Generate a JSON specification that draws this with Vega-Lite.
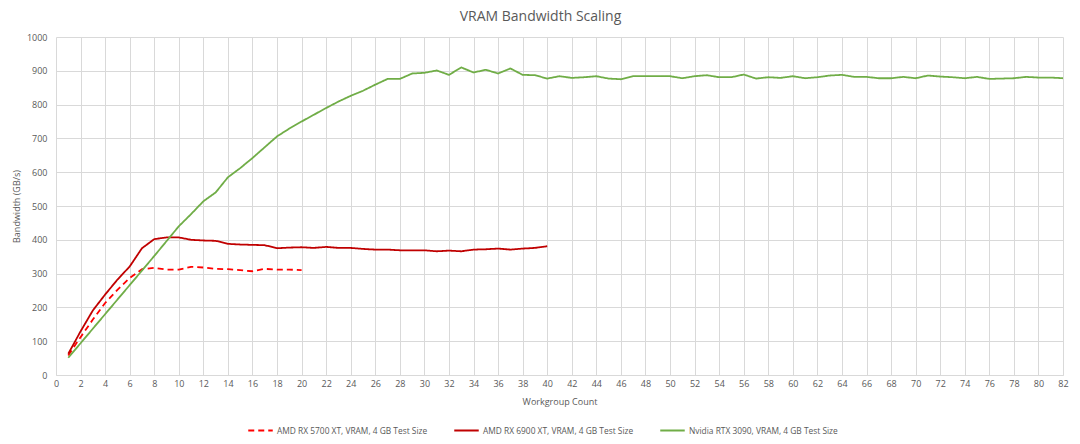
{
  "$schema": "https://vega.github.io/schema/vega-lite/v6.json",
  "width": 1007,
  "height": 338,
  "autosize": "none",
  "padding": {"left": 56, "top": 37, "right": 17, "bottom": 69},
  "background": "white",
  "title": {
    "text": "VRAM Bandwidth Scaling",
    "fontSize": 14,
    "fontWeight": "normal",
    "font": "Open Sans",
    "color": "#595959",
    "anchor": "middle",
    "offset": 9,
    "dx": -19
  },
  "data": {
    "values": [
      {"series": "AMD RX 5700 XT, VRAM, 4 GB Test Size", "workgroups": 1, "bandwidth": 58},
      {"series": "AMD RX 5700 XT, VRAM, 4 GB Test Size", "workgroups": 2, "bandwidth": 112},
      {"series": "AMD RX 5700 XT, VRAM, 4 GB Test Size", "workgroups": 3, "bandwidth": 164},
      {"series": "AMD RX 5700 XT, VRAM, 4 GB Test Size", "workgroups": 4, "bandwidth": 213},
      {"series": "AMD RX 5700 XT, VRAM, 4 GB Test Size", "workgroups": 5, "bandwidth": 252},
      {"series": "AMD RX 5700 XT, VRAM, 4 GB Test Size", "workgroups": 6, "bandwidth": 287},
      {"series": "AMD RX 5700 XT, VRAM, 4 GB Test Size", "workgroups": 7, "bandwidth": 313},
      {"series": "AMD RX 5700 XT, VRAM, 4 GB Test Size", "workgroups": 8, "bandwidth": 317},
      {"series": "AMD RX 5700 XT, VRAM, 4 GB Test Size", "workgroups": 9, "bandwidth": 312},
      {"series": "AMD RX 5700 XT, VRAM, 4 GB Test Size", "workgroups": 10, "bandwidth": 312},
      {"series": "AMD RX 5700 XT, VRAM, 4 GB Test Size", "workgroups": 11, "bandwidth": 320},
      {"series": "AMD RX 5700 XT, VRAM, 4 GB Test Size", "workgroups": 12, "bandwidth": 318},
      {"series": "AMD RX 5700 XT, VRAM, 4 GB Test Size", "workgroups": 13, "bandwidth": 314},
      {"series": "AMD RX 5700 XT, VRAM, 4 GB Test Size", "workgroups": 14, "bandwidth": 313},
      {"series": "AMD RX 5700 XT, VRAM, 4 GB Test Size", "workgroups": 15, "bandwidth": 310},
      {"series": "AMD RX 5700 XT, VRAM, 4 GB Test Size", "workgroups": 16, "bandwidth": 307},
      {"series": "AMD RX 5700 XT, VRAM, 4 GB Test Size", "workgroups": 17, "bandwidth": 314},
      {"series": "AMD RX 5700 XT, VRAM, 4 GB Test Size", "workgroups": 18, "bandwidth": 312},
      {"series": "AMD RX 5700 XT, VRAM, 4 GB Test Size", "workgroups": 19, "bandwidth": 312},
      {"series": "AMD RX 5700 XT, VRAM, 4 GB Test Size", "workgroups": 20, "bandwidth": 310},
      {"series": "AMD RX 6900 XT, VRAM, 4 GB Test Size", "workgroups": 1, "bandwidth": 63},
      {"series": "AMD RX 6900 XT, VRAM, 4 GB Test Size", "workgroups": 2, "bandwidth": 129},
      {"series": "AMD RX 6900 XT, VRAM, 4 GB Test Size", "workgroups": 3, "bandwidth": 191},
      {"series": "AMD RX 6900 XT, VRAM, 4 GB Test Size", "workgroups": 4, "bandwidth": 238},
      {"series": "AMD RX 6900 XT, VRAM, 4 GB Test Size", "workgroups": 5, "bandwidth": 282},
      {"series": "AMD RX 6900 XT, VRAM, 4 GB Test Size", "workgroups": 6, "bandwidth": 321},
      {"series": "AMD RX 6900 XT, VRAM, 4 GB Test Size", "workgroups": 7, "bandwidth": 375},
      {"series": "AMD RX 6900 XT, VRAM, 4 GB Test Size", "workgroups": 8, "bandwidth": 402},
      {"series": "AMD RX 6900 XT, VRAM, 4 GB Test Size", "workgroups": 9, "bandwidth": 407},
      {"series": "AMD RX 6900 XT, VRAM, 4 GB Test Size", "workgroups": 10, "bandwidth": 407},
      {"series": "AMD RX 6900 XT, VRAM, 4 GB Test Size", "workgroups": 11, "bandwidth": 400},
      {"series": "AMD RX 6900 XT, VRAM, 4 GB Test Size", "workgroups": 12, "bandwidth": 398},
      {"series": "AMD RX 6900 XT, VRAM, 4 GB Test Size", "workgroups": 13, "bandwidth": 397},
      {"series": "AMD RX 6900 XT, VRAM, 4 GB Test Size", "workgroups": 14, "bandwidth": 388},
      {"series": "AMD RX 6900 XT, VRAM, 4 GB Test Size", "workgroups": 15, "bandwidth": 386},
      {"series": "AMD RX 6900 XT, VRAM, 4 GB Test Size", "workgroups": 16, "bandwidth": 385},
      {"series": "AMD RX 6900 XT, VRAM, 4 GB Test Size", "workgroups": 17, "bandwidth": 384},
      {"series": "AMD RX 6900 XT, VRAM, 4 GB Test Size", "workgroups": 18, "bandwidth": 375},
      {"series": "AMD RX 6900 XT, VRAM, 4 GB Test Size", "workgroups": 19, "bandwidth": 377},
      {"series": "AMD RX 6900 XT, VRAM, 4 GB Test Size", "workgroups": 20, "bandwidth": 378},
      {"series": "AMD RX 6900 XT, VRAM, 4 GB Test Size", "workgroups": 21, "bandwidth": 376},
      {"series": "AMD RX 6900 XT, VRAM, 4 GB Test Size", "workgroups": 22, "bandwidth": 379},
      {"series": "AMD RX 6900 XT, VRAM, 4 GB Test Size", "workgroups": 23, "bandwidth": 376},
      {"series": "AMD RX 6900 XT, VRAM, 4 GB Test Size", "workgroups": 24, "bandwidth": 376},
      {"series": "AMD RX 6900 XT, VRAM, 4 GB Test Size", "workgroups": 25, "bandwidth": 373},
      {"series": "AMD RX 6900 XT, VRAM, 4 GB Test Size", "workgroups": 26, "bandwidth": 371},
      {"series": "AMD RX 6900 XT, VRAM, 4 GB Test Size", "workgroups": 27, "bandwidth": 371},
      {"series": "AMD RX 6900 XT, VRAM, 4 GB Test Size", "workgroups": 28, "bandwidth": 369},
      {"series": "AMD RX 6900 XT, VRAM, 4 GB Test Size", "workgroups": 29, "bandwidth": 369},
      {"series": "AMD RX 6900 XT, VRAM, 4 GB Test Size", "workgroups": 30, "bandwidth": 369},
      {"series": "AMD RX 6900 XT, VRAM, 4 GB Test Size", "workgroups": 31, "bandwidth": 366},
      {"series": "AMD RX 6900 XT, VRAM, 4 GB Test Size", "workgroups": 32, "bandwidth": 368},
      {"series": "AMD RX 6900 XT, VRAM, 4 GB Test Size", "workgroups": 33, "bandwidth": 366},
      {"series": "AMD RX 6900 XT, VRAM, 4 GB Test Size", "workgroups": 34, "bandwidth": 371},
      {"series": "AMD RX 6900 XT, VRAM, 4 GB Test Size", "workgroups": 35, "bandwidth": 372},
      {"series": "AMD RX 6900 XT, VRAM, 4 GB Test Size", "workgroups": 36, "bandwidth": 374},
      {"series": "AMD RX 6900 XT, VRAM, 4 GB Test Size", "workgroups": 37, "bandwidth": 371},
      {"series": "AMD RX 6900 XT, VRAM, 4 GB Test Size", "workgroups": 38, "bandwidth": 374},
      {"series": "AMD RX 6900 XT, VRAM, 4 GB Test Size", "workgroups": 39, "bandwidth": 376},
      {"series": "AMD RX 6900 XT, VRAM, 4 GB Test Size", "workgroups": 40, "bandwidth": 381},
      {"series": "Nvidia RTX 3090, VRAM, 4 GB Test Size", "workgroups": 1, "bandwidth": 51},
      {"series": "Nvidia RTX 3090, VRAM, 4 GB Test Size", "workgroups": 2, "bandwidth": 94},
      {"series": "Nvidia RTX 3090, VRAM, 4 GB Test Size", "workgroups": 3, "bandwidth": 137},
      {"series": "Nvidia RTX 3090, VRAM, 4 GB Test Size", "workgroups": 4, "bandwidth": 180},
      {"series": "Nvidia RTX 3090, VRAM, 4 GB Test Size", "workgroups": 5, "bandwidth": 223},
      {"series": "Nvidia RTX 3090, VRAM, 4 GB Test Size", "workgroups": 6, "bandwidth": 266},
      {"series": "Nvidia RTX 3090, VRAM, 4 GB Test Size", "workgroups": 7, "bandwidth": 309},
      {"series": "Nvidia RTX 3090, VRAM, 4 GB Test Size", "workgroups": 8, "bandwidth": 352},
      {"series": "Nvidia RTX 3090, VRAM, 4 GB Test Size", "workgroups": 9, "bandwidth": 396},
      {"series": "Nvidia RTX 3090, VRAM, 4 GB Test Size", "workgroups": 10, "bandwidth": 440},
      {"series": "Nvidia RTX 3090, VRAM, 4 GB Test Size", "workgroups": 11, "bandwidth": 476},
      {"series": "Nvidia RTX 3090, VRAM, 4 GB Test Size", "workgroups": 12, "bandwidth": 514},
      {"series": "Nvidia RTX 3090, VRAM, 4 GB Test Size", "workgroups": 13, "bandwidth": 540},
      {"series": "Nvidia RTX 3090, VRAM, 4 GB Test Size", "workgroups": 14, "bandwidth": 585},
      {"series": "Nvidia RTX 3090, VRAM, 4 GB Test Size", "workgroups": 15, "bandwidth": 612},
      {"series": "Nvidia RTX 3090, VRAM, 4 GB Test Size", "workgroups": 16, "bandwidth": 642},
      {"series": "Nvidia RTX 3090, VRAM, 4 GB Test Size", "workgroups": 17, "bandwidth": 674},
      {"series": "Nvidia RTX 3090, VRAM, 4 GB Test Size", "workgroups": 18, "bandwidth": 706},
      {"series": "Nvidia RTX 3090, VRAM, 4 GB Test Size", "workgroups": 19, "bandwidth": 729},
      {"series": "Nvidia RTX 3090, VRAM, 4 GB Test Size", "workgroups": 20, "bandwidth": 750},
      {"series": "Nvidia RTX 3090, VRAM, 4 GB Test Size", "workgroups": 21, "bandwidth": 770},
      {"series": "Nvidia RTX 3090, VRAM, 4 GB Test Size", "workgroups": 22, "bandwidth": 790},
      {"series": "Nvidia RTX 3090, VRAM, 4 GB Test Size", "workgroups": 23, "bandwidth": 809},
      {"series": "Nvidia RTX 3090, VRAM, 4 GB Test Size", "workgroups": 24, "bandwidth": 826},
      {"series": "Nvidia RTX 3090, VRAM, 4 GB Test Size", "workgroups": 25, "bandwidth": 841},
      {"series": "Nvidia RTX 3090, VRAM, 4 GB Test Size", "workgroups": 26, "bandwidth": 859},
      {"series": "Nvidia RTX 3090, VRAM, 4 GB Test Size", "workgroups": 27, "bandwidth": 876},
      {"series": "Nvidia RTX 3090, VRAM, 4 GB Test Size", "workgroups": 28, "bandwidth": 876},
      {"series": "Nvidia RTX 3090, VRAM, 4 GB Test Size", "workgroups": 29, "bandwidth": 892},
      {"series": "Nvidia RTX 3090, VRAM, 4 GB Test Size", "workgroups": 30, "bandwidth": 894},
      {"series": "Nvidia RTX 3090, VRAM, 4 GB Test Size", "workgroups": 31, "bandwidth": 901},
      {"series": "Nvidia RTX 3090, VRAM, 4 GB Test Size", "workgroups": 32, "bandwidth": 888},
      {"series": "Nvidia RTX 3090, VRAM, 4 GB Test Size", "workgroups": 33, "bandwidth": 910},
      {"series": "Nvidia RTX 3090, VRAM, 4 GB Test Size", "workgroups": 34, "bandwidth": 895},
      {"series": "Nvidia RTX 3090, VRAM, 4 GB Test Size", "workgroups": 35, "bandwidth": 903},
      {"series": "Nvidia RTX 3090, VRAM, 4 GB Test Size", "workgroups": 36, "bandwidth": 892},
      {"series": "Nvidia RTX 3090, VRAM, 4 GB Test Size", "workgroups": 37, "bandwidth": 907},
      {"series": "Nvidia RTX 3090, VRAM, 4 GB Test Size", "workgroups": 38, "bandwidth": 888},
      {"series": "Nvidia RTX 3090, VRAM, 4 GB Test Size", "workgroups": 39, "bandwidth": 887},
      {"series": "Nvidia RTX 3090, VRAM, 4 GB Test Size", "workgroups": 40, "bandwidth": 877},
      {"series": "Nvidia RTX 3090, VRAM, 4 GB Test Size", "workgroups": 41, "bandwidth": 884},
      {"series": "Nvidia RTX 3090, VRAM, 4 GB Test Size", "workgroups": 42, "bandwidth": 879},
      {"series": "Nvidia RTX 3090, VRAM, 4 GB Test Size", "workgroups": 43, "bandwidth": 881},
      {"series": "Nvidia RTX 3090, VRAM, 4 GB Test Size", "workgroups": 44, "bandwidth": 884},
      {"series": "Nvidia RTX 3090, VRAM, 4 GB Test Size", "workgroups": 45, "bandwidth": 877},
      {"series": "Nvidia RTX 3090, VRAM, 4 GB Test Size", "workgroups": 46, "bandwidth": 875},
      {"series": "Nvidia RTX 3090, VRAM, 4 GB Test Size", "workgroups": 47, "bandwidth": 884},
      {"series": "Nvidia RTX 3090, VRAM, 4 GB Test Size", "workgroups": 48, "bandwidth": 884},
      {"series": "Nvidia RTX 3090, VRAM, 4 GB Test Size", "workgroups": 49, "bandwidth": 884},
      {"series": "Nvidia RTX 3090, VRAM, 4 GB Test Size", "workgroups": 50, "bandwidth": 884},
      {"series": "Nvidia RTX 3090, VRAM, 4 GB Test Size", "workgroups": 51, "bandwidth": 878},
      {"series": "Nvidia RTX 3090, VRAM, 4 GB Test Size", "workgroups": 52, "bandwidth": 884},
      {"series": "Nvidia RTX 3090, VRAM, 4 GB Test Size", "workgroups": 53, "bandwidth": 887},
      {"series": "Nvidia RTX 3090, VRAM, 4 GB Test Size", "workgroups": 54, "bandwidth": 881},
      {"series": "Nvidia RTX 3090, VRAM, 4 GB Test Size", "workgroups": 55, "bandwidth": 881},
      {"series": "Nvidia RTX 3090, VRAM, 4 GB Test Size", "workgroups": 56, "bandwidth": 889},
      {"series": "Nvidia RTX 3090, VRAM, 4 GB Test Size", "workgroups": 57, "bandwidth": 877},
      {"series": "Nvidia RTX 3090, VRAM, 4 GB Test Size", "workgroups": 58, "bandwidth": 881},
      {"series": "Nvidia RTX 3090, VRAM, 4 GB Test Size", "workgroups": 59, "bandwidth": 879},
      {"series": "Nvidia RTX 3090, VRAM, 4 GB Test Size", "workgroups": 60, "bandwidth": 884},
      {"series": "Nvidia RTX 3090, VRAM, 4 GB Test Size", "workgroups": 61, "bandwidth": 878},
      {"series": "Nvidia RTX 3090, VRAM, 4 GB Test Size", "workgroups": 62, "bandwidth": 881},
      {"series": "Nvidia RTX 3090, VRAM, 4 GB Test Size", "workgroups": 63, "bandwidth": 886},
      {"series": "Nvidia RTX 3090, VRAM, 4 GB Test Size", "workgroups": 64, "bandwidth": 888},
      {"series": "Nvidia RTX 3090, VRAM, 4 GB Test Size", "workgroups": 65, "bandwidth": 882},
      {"series": "Nvidia RTX 3090, VRAM, 4 GB Test Size", "workgroups": 66, "bandwidth": 882},
      {"series": "Nvidia RTX 3090, VRAM, 4 GB Test Size", "workgroups": 67, "bandwidth": 878},
      {"series": "Nvidia RTX 3090, VRAM, 4 GB Test Size", "workgroups": 68, "bandwidth": 878},
      {"series": "Nvidia RTX 3090, VRAM, 4 GB Test Size", "workgroups": 69, "bandwidth": 882},
      {"series": "Nvidia RTX 3090, VRAM, 4 GB Test Size", "workgroups": 70, "bandwidth": 878},
      {"series": "Nvidia RTX 3090, VRAM, 4 GB Test Size", "workgroups": 71, "bandwidth": 886},
      {"series": "Nvidia RTX 3090, VRAM, 4 GB Test Size", "workgroups": 72, "bandwidth": 883},
      {"series": "Nvidia RTX 3090, VRAM, 4 GB Test Size", "workgroups": 73, "bandwidth": 881},
      {"series": "Nvidia RTX 3090, VRAM, 4 GB Test Size", "workgroups": 74, "bandwidth": 878},
      {"series": "Nvidia RTX 3090, VRAM, 4 GB Test Size", "workgroups": 75, "bandwidth": 882},
      {"series": "Nvidia RTX 3090, VRAM, 4 GB Test Size", "workgroups": 76, "bandwidth": 876},
      {"series": "Nvidia RTX 3090, VRAM, 4 GB Test Size", "workgroups": 77, "bandwidth": 877},
      {"series": "Nvidia RTX 3090, VRAM, 4 GB Test Size", "workgroups": 78, "bandwidth": 878},
      {"series": "Nvidia RTX 3090, VRAM, 4 GB Test Size", "workgroups": 79, "bandwidth": 882},
      {"series": "Nvidia RTX 3090, VRAM, 4 GB Test Size", "workgroups": 80, "bandwidth": 880},
      {"series": "Nvidia RTX 3090, VRAM, 4 GB Test Size", "workgroups": 81, "bandwidth": 880},
      {"series": "Nvidia RTX 3090, VRAM, 4 GB Test Size", "workgroups": 82, "bandwidth": 878}
    ]
  },
  "mark": {"type": "line", "strokeWidth": 1.8, "strokeJoin": "round"},
  "encoding": {
    "x": {
      "field": "workgroups",
      "type": "quantitative",
      "title": "Workgroup Count",
      "scale": {"domain": [0, 82], "nice": false, "zero": false},
      "axis": {
        "values": [0, 2, 4, 6, 8, 10, 12, 14, 16, 18, 20, 22, 24, 26, 28, 30, 32, 34, 36, 38, 40, 42, 44, 46, 48, 50, 52, 54, 56, 58, 60, 62, 64, 66, 68, 70, 72, 74, 76, 78, 80, 82],
        "ticks": false,
        "domain": true,
        "domainColor": "#D9D9D9",
        "labelPadding": 4,
        "titlePadding": 9,
        "labelFlush": false
      }
    },
    "y": {
      "field": "bandwidth",
      "type": "quantitative",
      "title": "Bandwidth (GB/s)",
      "scale": {"domain": [0, 1000], "nice": false},
      "axis": {
        "values": [0, 100, 200, 300, 400, 500, 600, 700, 800, 900, 1000],
        "format": "d",
        "ticks": false,
        "domain": false,
        "labelPadding": 9,
        "titlePadding": 5
      }
    },
    "color": {
      "field": "series",
      "type": "nominal",
      "title": null,
      "scale": {
        "domain": ["AMD RX 5700 XT, VRAM, 4 GB Test Size", "AMD RX 6900 XT, VRAM, 4 GB Test Size", "Nvidia RTX 3090, VRAM, 4 GB Test Size"],
        "range": ["#FF0000", "#C00000", "#70AD47"]
      },
      "legend": {
        "orient": "none",
        "direction": "horizontal",
        "legendX": 191,
        "legendY": 380,
        "symbolType": "stroke",
        "symbolSize": 600,
        "symbolStrokeWidth": 2,
        "columnPadding": 22,
        "labelOffset": 3,
        "labelLimit": 0
      }
    },
    "strokeDash": {
      "field": "series",
      "type": "nominal",
      "title": null,
      "scale": {
        "domain": ["AMD RX 5700 XT, VRAM, 4 GB Test Size", "AMD RX 6900 XT, VRAM, 4 GB Test Size", "Nvidia RTX 3090, VRAM, 4 GB Test Size"],
        "range": [[6, 4], [1, 0], [1, 0]]
      }
    }
  },
  "config": {
    "font": "Open Sans",
    "view": {"stroke": null},
    "axis": {
      "gridColor": "#D9D9D9",
      "gridWidth": 1,
      "labelColor": "#595959",
      "labelFontSize": 9,
      "labelFont": "Open Sans",
      "titleColor": "#595959",
      "titleFontSize": 9,
      "titleFontWeight": "normal",
      "titleFont": "Open Sans"
    },
    "legend": {
      "labelColor": "#595959",
      "labelFontSize": 8.4,
      "labelFont": "Open Sans"
    }
  }
}
